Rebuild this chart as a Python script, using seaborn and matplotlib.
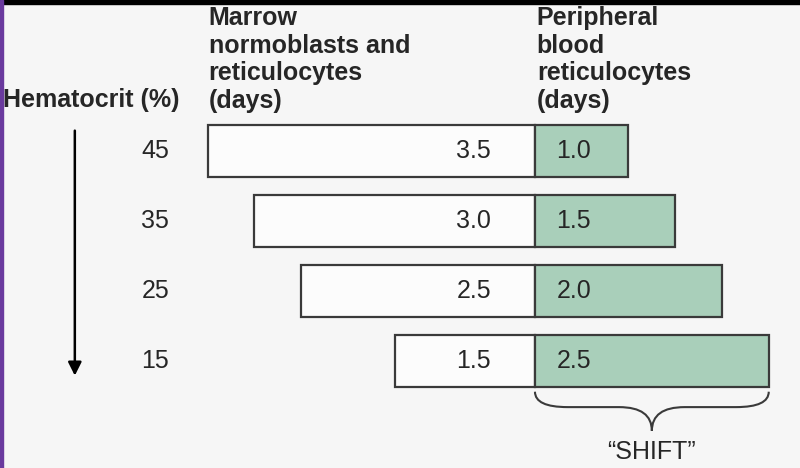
import matplotlib
matplotlib.use("Agg")
import matplotlib.pyplot as plt
from matplotlib.patches import Rectangle, PathPatch
from matplotlib.path import Path
import seaborn as sns
import pandas as pd

# Werte aus der Abbildung
hematocrit = ["45", "35", "25", "15"]
marrow_days = [3.5, 3.0, 2.5, 1.5]
peripheral_days = [1.0, 1.5, 2.0, 2.5]

marrow_header = "Marrow\nnormoblasts and\nreticulocytes\n(days)"
peripheral_header = "Peripheral\nblood\nreticulocytes\n(days)"
axis_title = "Hematocrit (%)"
shift_label = "\u201cSHIFT\u201d"

bg = "#f6f6f6"
green = "#a9cfba"
edge = "#3a3a3a"
txt = "#262626"
fs = 18

sns.set_theme(style="white")
plt.rcParams["font.family"] = ["Liberation Sans", "DejaVu Sans"]

df = pd.DataFrame({
    "hct": hematocrit,
    "marrow": [-v for v in marrow_days],  # Balken nach links
    "peripheral": peripheral_days,
})

fig = plt.figure(figsize=(8, 4.68), dpi=100, facecolor=bg)
ax = fig.add_axes([0, 0, 1, 1])
ax.set_facecolor(bg)

sns.barplot(data=df, x="marrow", y="hct", orient="h", color="#fcfcfc",
            saturation=1, edgecolor=edge, linewidth=1.6, width=0.75, ax=ax)
sns.barplot(data=df, x="peripheral", y="hct", orient="h", color=green,
            saturation=1, edgecolor=edge, linewidth=1.6, width=0.75, ax=ax)

ax.set_xlim(-5.72, 2.834)
ax.set_ylim(4.53, -2.157)
ax.axis("off")

# Beschriftungen der Balken
for i, (h, m, p) in enumerate(zip(hematocrit, marrow_days, peripheral_days)):
    ax.text(-0.47, i, f"{m:.1f}", ha="right", va="center", fontsize=fs, color=txt)
    ax.text(0.23, i, f"{p:.1f}", ha="left", va="center", fontsize=fs, color=txt)
    ax.text(-4.06, i, h, ha="center", va="center", fontsize=fs, color=txt)

# Kopfzeilen
ax.text(-4.74, -0.73, axis_title, ha="center", va="center", fontsize=fs,
        fontweight="bold", color=txt)
ax.text(-3.49, -2.07, marrow_header, ha="left", va="top", fontsize=fs,
        fontweight="bold", color=txt, linespacing=1.19)
ax.text(0.02, -2.07, peripheral_header, ha="left", va="top", fontsize=fs,
        fontweight="bold", color=txt, linespacing=1.19)

# Pfeil nach unten
ax.annotate("", xy=(-4.92, 3.25), xytext=(-4.92, -0.33),
            arrowprops=dict(arrowstyle="-|>", color="black", lw=1.8,
                            mutation_scale=20))

# geschweifte Klammer unter den peripheren Balken
x0, x1 = 0.0, peripheral_days[-1]
xm = (x0 + x1) / 2
yt, ym, yb = 3.44, 3.66, 4.0
verts = [(x0, yt), (x0, ym), (x0 + 0.35, ym),
         (xm - 0.35, ym), (xm, ym), (xm, yb),
         (xm, ym), (xm + 0.35, ym),
         (x1 - 0.35, ym), (x1, ym), (x1, yt)]
codes = [Path.MOVETO, Path.CURVE3, Path.CURVE3,
         Path.LINETO, Path.CURVE3, Path.CURVE3,
         Path.CURVE3, Path.CURVE3,
         Path.LINETO, Path.CURVE3, Path.CURVE3]
ax.add_patch(PathPatch(Path(verts, codes), fill=False, edgecolor=edge, lw=1.5))
ax.text(xm, 4.3, shift_label, ha="center", va="center", fontsize=fs, color=txt)

# Rand der Bildschirmaufnahme
fig.patches.append(Rectangle((0, 0.991), 1, 0.009, transform=fig.transFigure,
                             color="black", zorder=10))
fig.patches.append(Rectangle((0, 0), 0.004, 1, transform=fig.transFigure,
                             color="#6a3a9e", zorder=10))

fig.savefig("out.png", dpi=100, facecolor=bg)
